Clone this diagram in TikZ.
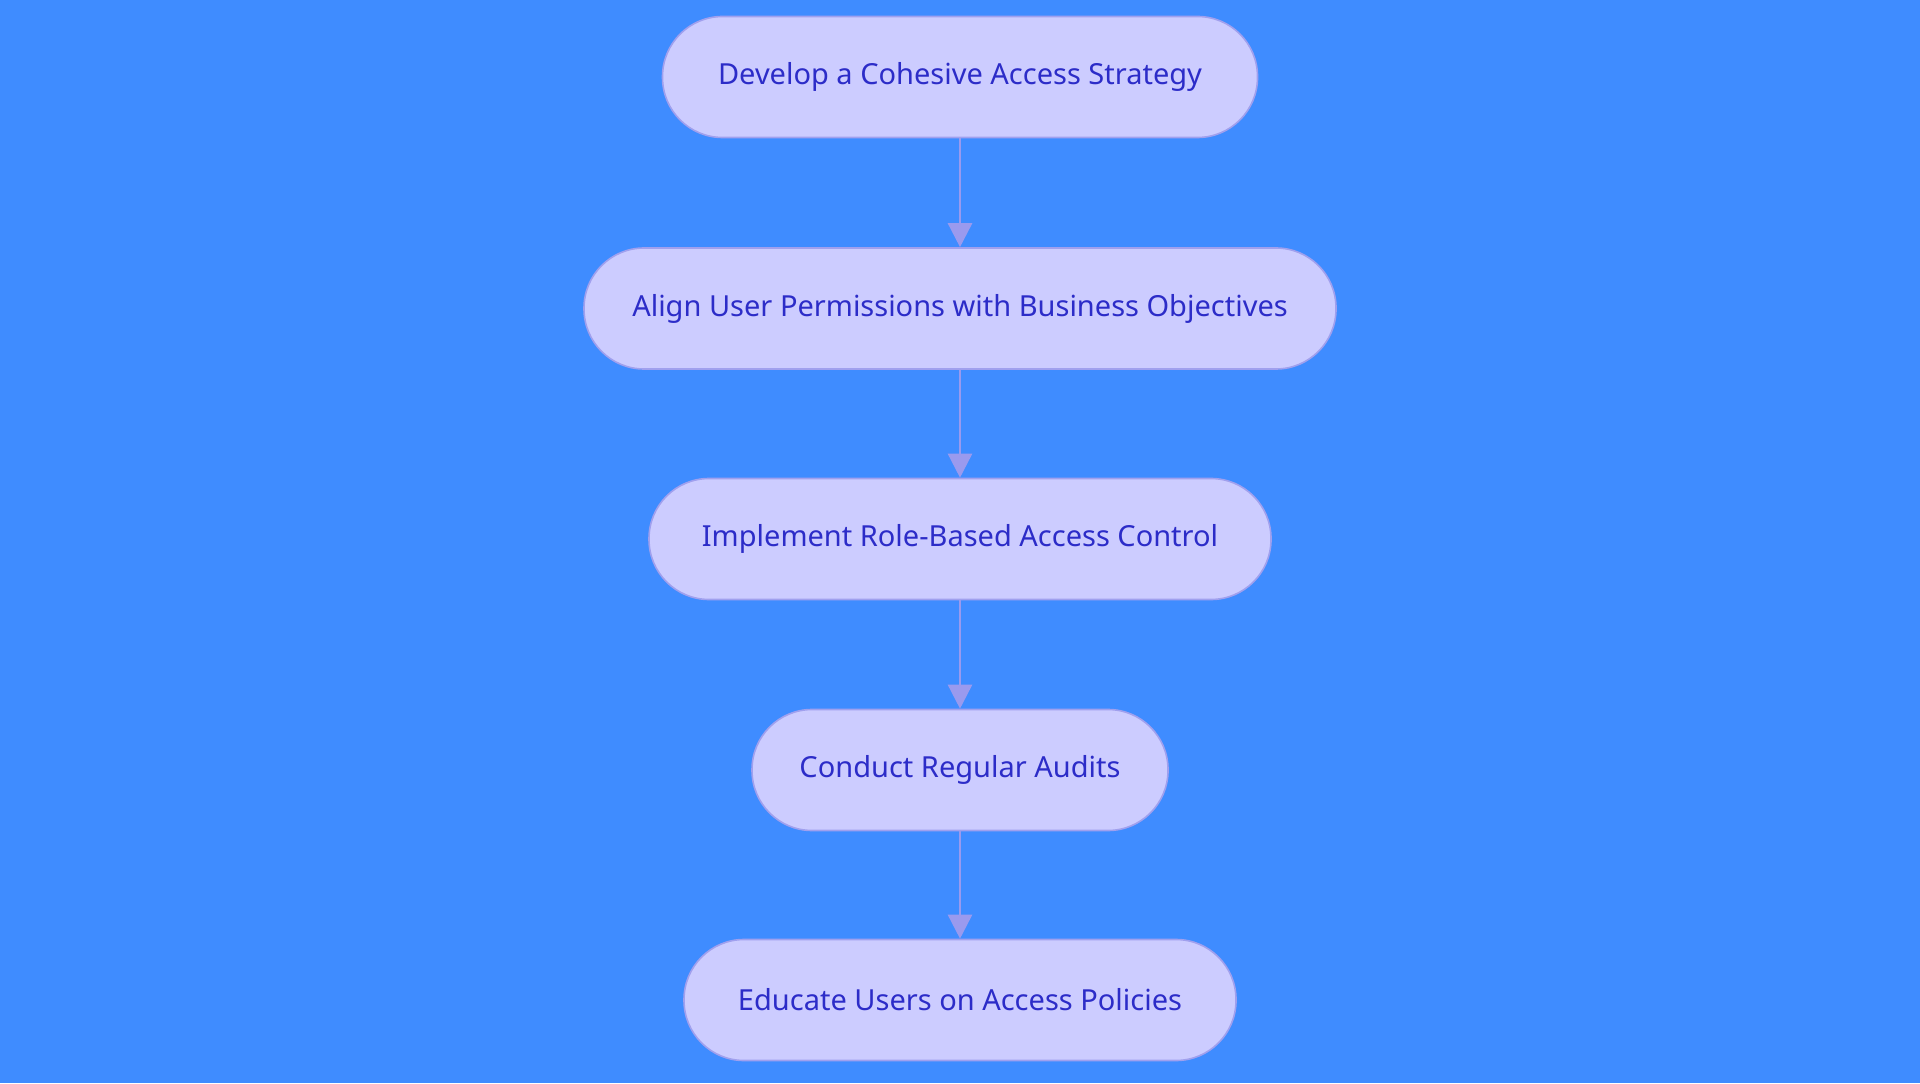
\documentclass[tikz,border=0pt]{standalone}
\usepackage{fontspec}
\setmainfont{Noto Sans}
\usetikzlibrary{arrows.meta}
\definecolor{bg}{HTML}{3F8CFF}
\definecolor{nf}{HTML}{CCCCFF}
\definecolor{nb}{HTML}{A0A0EE}
\definecolor{tx}{HTML}{2C2CC8}
\definecolor{ar}{HTML}{9A9AEE}
\begin{document}
\begin{tikzpicture}[x=0.5pt,y=0.5pt,
  box/.style={draw=nb,fill=nf,line width=0.8pt,rounded corners=30pt,minimum height=60.5pt,text=tx,font=\fontsize{14.5}{17}\selectfont,inner sep=0pt},
  arr/.style={draw=ar,line width=1.3pt,-{Triangle[length=12pt,width=12pt]}}]
\fill[bg] (0,0) rectangle (1920,1083);
\useasboundingbox (0,0) rectangle (1920,1083);
\node[box,minimum width=297.5pt] (a) at (960,1006) {Develop a Cohesive Access Strategy};
\node[box,minimum width=376pt] (b) at (960,774.5) {Align User Permissions with Business Objectives};
\node[box,minimum width=311pt] (c) at (960,544) {Implement Role-Based Access Control};
\node[box,minimum width=208pt] (d) at (960,313) {Conduct Regular Audits};
\node[box,minimum width=276pt] (e) at (960,83) {Educate Users on Access Policies};
\draw[arr] (a) -- (b);
\draw[arr] (b) -- (c);
\draw[arr] (c) -- (d);
\draw[arr] (d) -- (e);
\end{tikzpicture}
\end{document}
